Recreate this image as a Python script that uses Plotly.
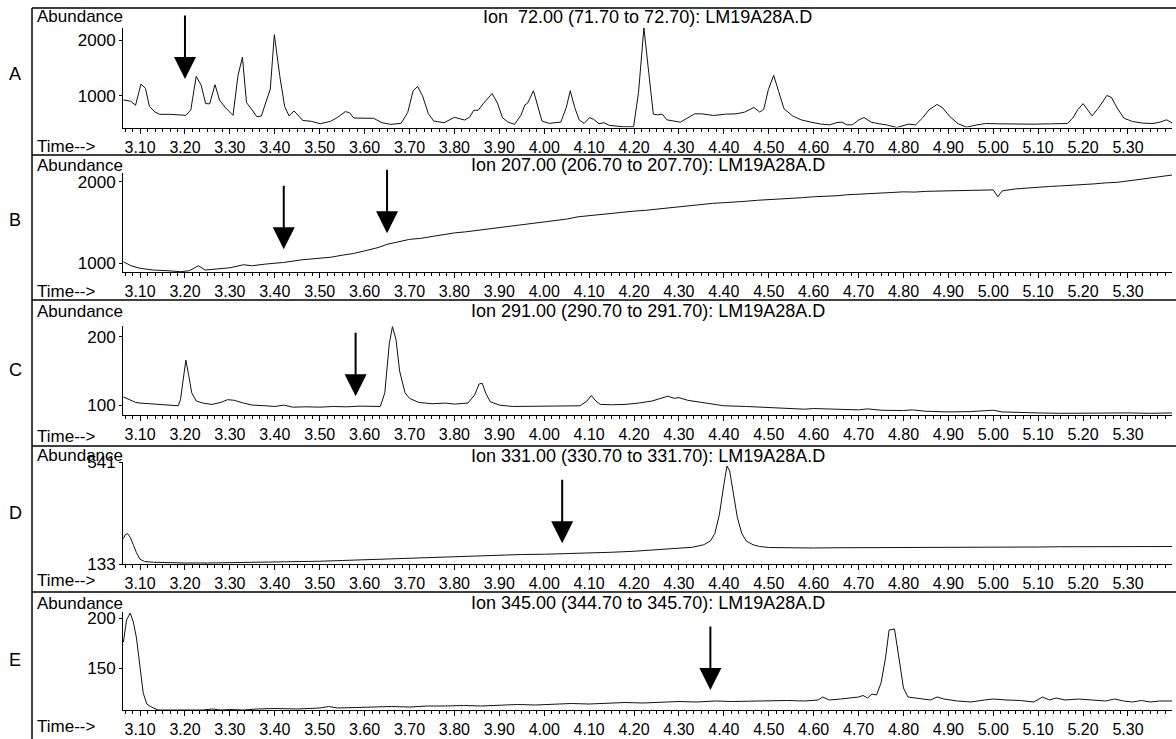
import plotly.graph_objects as go

# ---------------- data ----------------
TIME_A = [3.063, 3.079, 3.090, 3.102, 3.112, 3.121, 3.133, 3.144, 3.167, 3.190, 3.202, 3.213, 3.225, 3.236,
          3.246, 3.255, 3.267, 3.277, 3.290, 3.307, 3.318, 3.328, 3.337, 3.351, 3.360, 3.370, 3.390, 3.399,
          3.411, 3.422, 3.432, 3.443, 3.462, 3.482, 3.501, 3.524, 3.539, 3.557, 3.566, 3.576, 3.620, 3.639,
          3.658, 3.681, 3.696, 3.708, 3.718, 3.729, 3.742, 3.754, 3.777, 3.800, 3.823, 3.834, 3.843, 3.853,
          3.865, 3.884, 3.896, 3.907, 3.919, 3.934, 3.948, 3.957, 3.963, 3.976, 3.986, 3.995, 4.011, 4.037,
          4.049, 4.058, 4.068, 4.078, 4.089, 4.101, 4.110, 4.122, 4.133, 4.145, 4.176, 4.199, 4.210, 4.222,
          4.233, 4.243, 4.252, 4.263, 4.273, 4.290, 4.303, 4.316, 4.335, 4.351, 4.377, 4.404, 4.427, 4.446,
          4.467, 4.480, 4.489, 4.499, 4.511, 4.522, 4.534, 4.553, 4.572, 4.594, 4.617, 4.636, 4.652, 4.663,
          4.674, 4.686, 4.701, 4.712, 4.728, 4.747, 4.762, 4.785, 4.800, 4.811, 4.827, 4.842, 4.857, 4.875,
          4.888, 4.903, 4.922, 4.941, 4.964, 4.983, 5.013, 5.051, 5.089, 5.127, 5.165, 5.177, 5.188, 5.200,
          5.211, 5.220, 5.234, 5.253, 5.263, 5.276, 5.291, 5.310, 5.333, 5.356, 5.371, 5.386, 5.398]
ABUND_A = [927, 903, 831, 1212, 1133, 806, 710, 667, 667, 661, 649, 746, 1351, 1194,
           861, 855, 1200, 921, 788, 649, 1363, 1696, 879, 728, 625, 637, 1121, 2101,
           1363, 806, 637, 728, 558, 540, 498, 540, 607, 716, 698, 601, 595, 516,
           486, 504, 698, 1091, 1169, 1000, 679, 546, 516, 613, 564, 619, 740, 740,
           867, 1042, 867, 607, 528, 486, 649, 837, 867, 1091, 819, 546, 504, 528,
           788, 1091, 788, 564, 504, 607, 577, 498, 516, 468, 443, 443, 1061, 2225,
           1400, 670, 658, 670, 568, 550, 526, 586, 676, 676, 646, 670, 676, 706,
           791, 706, 761, 1109, 1368, 1079, 767, 640, 568, 526, 490, 478, 520, 526,
           478, 478, 568, 610, 526, 496, 478, 430, 460, 490, 478, 598, 749, 845,
           779, 628, 496, 436, 478, 502, 496, 490, 490, 496, 502, 598, 749, 860,
           731, 640, 779, 1007, 971, 779, 598, 538, 508, 502, 526, 568, 514]

TIME_B = [3.063, 3.080, 3.100, 3.130, 3.160, 3.190, 3.210, 3.230, 3.245, 3.270, 3.300, 3.330, 3.350, 3.380,
          3.420, 3.460, 3.500, 3.525, 3.550, 3.575, 3.600, 3.630, 3.650, 3.670, 3.700, 3.725, 3.750, 3.775,
          3.800, 3.825, 3.850, 3.875, 3.900, 3.925, 3.950, 3.975, 4.000, 4.025, 4.050, 4.075, 4.100, 4.125,
          4.150, 4.175, 4.200, 4.225, 4.250, 4.275, 4.300, 4.325, 4.350, 4.375, 4.400, 4.425, 4.450, 4.475,
          4.500, 4.525, 4.550, 4.575, 4.600, 4.625, 4.650, 4.675, 4.700, 4.725, 4.750, 4.775, 4.800, 4.825,
          4.850, 4.875, 4.900, 4.925, 4.950, 4.975, 5.000, 5.010, 5.020, 5.050, 5.075, 5.100, 5.125, 5.150,
          5.175, 5.200, 5.225, 5.250, 5.275, 5.300, 5.325, 5.350, 5.375, 5.398]
ABUND_B = [1016, 967, 935, 914, 906, 894, 906, 967, 914, 927, 942, 979, 967, 988,
           1008, 1040, 1061, 1072, 1097, 1118, 1150, 1191, 1231, 1256, 1292, 1305, 1329, 1345,
           1372, 1385, 1402, 1425, 1439, 1462, 1475, 1490, 1512, 1530, 1542, 1570, 1585, 1596,
           1616, 1632, 1640, 1650, 1664, 1685, 1695, 1705, 1719, 1736, 1744, 1750, 1762, 1774,
           1780, 1792, 1799, 1806, 1817, 1822, 1829, 1842, 1847, 1855, 1866, 1870, 1878, 1875,
           1884, 1888, 1890, 1892, 1896, 1899, 1902, 1817, 1890, 1914, 1925, 1939, 1944, 1951,
           1957, 1963, 1976, 1988, 1995, 2012, 2030, 2049, 2066, 2085]

TIME_C = [3.063, 3.075, 3.090, 3.100, 3.120, 3.150, 3.175, 3.185, 3.190, 3.197, 3.202, 3.208, 3.215, 3.225,
          3.240, 3.260, 3.280, 3.295, 3.310, 3.330, 3.350, 3.380, 3.400, 3.420, 3.440, 3.470, 3.500, 3.530,
          3.560, 3.590, 3.620, 3.635, 3.645, 3.655, 3.662, 3.670, 3.678, 3.690, 3.700, 3.720, 3.750, 3.780,
          3.800, 3.830, 3.845, 3.855, 3.862, 3.870, 3.880, 3.900, 3.930, 3.960, 4.000, 4.040, 4.080, 4.095,
          4.105, 4.115, 4.125, 4.150, 4.180, 4.210, 4.240, 4.260, 4.275, 4.290, 4.300, 4.320, 4.350, 4.380,
          4.400, 4.450, 4.500, 4.550, 4.580, 4.600, 4.650, 4.700, 4.720, 4.750, 4.800, 4.820, 4.850, 4.900,
          4.950, 5.000, 5.020, 5.060, 5.100, 5.150, 5.200, 5.250, 5.300, 5.350, 5.398]
ABUND_C = [112, 108, 104, 103, 102, 101.5, 100, 99, 108, 140, 166, 145, 118, 106,
           103, 101, 104, 108, 107, 103, 100, 99, 98, 100, 97, 97.5, 97, 98,
           97.5, 98.5, 97.5, 98, 118, 190, 215, 196, 150, 118, 110, 104, 102, 103,
           101.5, 103, 115, 131, 132, 117, 105, 100, 98, 98, 98.5, 98, 99, 106,
           114, 106, 101, 100.5, 101, 103, 106, 110, 113, 110, 111, 107, 104, 101,
           99, 98, 96.5, 96, 94, 95, 93.5, 93, 94.5, 92.5, 92, 93, 91, 90,
           90.5, 92.5, 90, 89, 88.5, 88, 88.5, 88, 88.5, 88, 88.5]

TIME_D = [3.063, 3.067, 3.072, 3.078, 3.085, 3.092, 3.100, 3.110, 3.130, 3.160, 3.200, 3.250, 3.300, 3.350,
          3.400, 3.450, 3.500, 3.550, 3.600, 3.650, 3.700, 3.750, 3.800, 3.850, 3.900, 3.950, 4.000, 4.050,
          4.100, 4.150, 4.200, 4.250, 4.300, 4.330, 4.355, 4.370, 4.380, 4.390, 4.400, 4.407, 4.413, 4.420,
          4.430, 4.440, 4.450, 4.465, 4.480, 4.500, 4.550, 4.600, 4.650, 4.700, 4.750, 4.800, 4.850, 4.900,
          4.950, 5.000, 5.050, 5.100, 5.150, 5.200, 5.250, 5.300, 5.350, 5.398]
ABUND_D = [235, 250, 255, 240, 210, 178, 152, 143, 140, 138, 137, 137, 138, 139,
           140, 142, 144, 147, 150, 153, 157, 160, 163, 166, 169, 171, 172, 174,
           176, 180, 184, 189, 195, 200, 210, 225, 255, 330, 450, 525, 505, 430,
           320, 255, 225, 210, 203, 199, 197, 197, 198, 198, 199, 199, 200, 200,
           201, 200, 201, 201, 202, 202, 202, 203, 203, 203]

TIME_E = [3.063, 3.070, 3.078, 3.085, 3.092, 3.100, 3.107, 3.115, 3.125, 3.140, 3.160, 3.180, 3.200, 3.220,
          3.240, 3.260, 3.280, 3.300, 3.330, 3.360, 3.400, 3.450, 3.500, 3.520, 3.540, 3.580, 3.620, 3.660,
          3.700, 3.740, 3.780, 3.820, 3.860, 3.900, 3.940, 3.980, 4.020, 4.060, 4.100, 4.140, 4.180, 4.220,
          4.260, 4.300, 4.340, 4.380, 4.420, 4.460, 4.500, 4.540, 4.580, 4.610, 4.620, 4.635, 4.660, 4.690,
          4.700, 4.710, 4.720, 4.730, 4.740, 4.750, 4.760, 4.768, 4.780, 4.790, 4.800, 4.810, 4.830, 4.860,
          4.875, 4.890, 4.920, 4.950, 4.980, 5.000, 5.030, 5.060, 5.090, 5.110, 5.125, 5.140, 5.160, 5.190,
          5.220, 5.250, 5.270, 5.290, 5.310, 5.330, 5.350, 5.370, 5.398]
ABUND_E = [176, 198, 205, 196, 180, 148, 125, 114, 111, 108, 108, 108.5, 108, 108.5,
           108, 109, 108, 108.5, 108, 109, 109.5, 109, 110, 111.5, 110, 110.5, 111, 111.5,
           111, 112, 112, 112.5, 112, 113, 113.5, 113, 114, 114.5, 114, 115, 115.5, 115,
           116, 116.5, 116, 117, 116.5, 117, 117, 117.5, 117, 118, 121, 118, 119, 120,
           121, 122.5, 120, 124, 123, 135, 160, 188, 189, 160, 130, 121, 120, 118,
           121, 119, 117, 116, 118, 119, 118, 117.5, 116, 121, 118, 120, 118, 119,
           118, 117, 119, 117, 116, 117.5, 116, 117, 117]

PANEL_LETTERS = ["A", "B", "C", "D", "E"]
ION_TITLES = ["Ion\u00a0 72.00 (71.70 to 72.70): LM19A28A.D",
              "Ion 207.00 (206.70 to 207.70): LM19A28A.D",
              "Ion 291.00 (290.70 to 291.70): LM19A28A.D",
              "Ion 331.00 (330.70 to 331.70): LM19A28A.D",
              "Ion 345.00 (344.70 to 345.70): LM19A28A.D"]
Y_TICKS = [[1000, 2000], [1000, 2000], [100, 200], [133, 541], [150, 200]]
Y_RANGES = [[430, 2230], [890, 2110], [85.5, 216], [133, 541], [108, 206]]
ARROW_TIMES = [[3.20], [3.42, 3.65], [3.58], [4.04], [4.37]]
ARROW_TIPS = [[1301], [1170, 1366], [113], [216], [128]]
X_RANGE = [3.062, 5.398]

TIMES = [TIME_A, TIME_B, TIME_C, TIME_D, TIME_E]
ABUNDS = [ABUND_A, ABUND_B, ABUND_C, ABUND_D, ABUND_E]

# ---------------- layout geometry (pixels) ----------------
W, H = 1176, 739
PLOT_LEFT, PLOT_RIGHT = 123, 1172
PLOT_TOP = [27.5, 173, 326, 462, 612]
PLOT_BOTTOM = [127.5, 272, 415, 564, 710]
BORDERS = [8, 155, 300, 446, 592]
ABUND_Y = [17, 165, 311, 455, 603]
TIME_Y = [146, 291, 436, 580, 726]
LETTER_Y = [74, 220, 370, 513, 660]
TITLE_Y = [17, 165, 311, 456, 603]
TITLE_X = 648

FONT = "Liberation Sans, Arial, Helvetica, sans-serif"
BLACK = "#000000"


def px(x):
    return x / W


def py(y):
    return 1 - y / H


fig = go.Figure()
layout = dict(
    template="none",
    width=W, height=H, autosize=False,
    margin=dict(l=0, r=0, t=0, b=0, pad=0, autoexpand=False),
    paper_bgcolor="white", plot_bgcolor="white",
    showlegend=False,
    font=dict(family=FONT, color=BLACK, size=16),
)
annotations = []
shapes = []

for i in range(5):
    n = "" if i == 0 else str(i + 1)
    fig.add_trace(go.Scatter(
        x=TIMES[i], y=ABUNDS[i], mode="lines",
        line=dict(color="#111111", width=1),
        xaxis="x" + n, yaxis="y" + n, hoverinfo="skip",
    ))
    layout["xaxis" + n] = dict(
        domain=[px(PLOT_LEFT), px(PLOT_RIGHT)], anchor="y" + n,
        range=X_RANGE, tick0=3.1, dtick=0.1, tickformat=".2f",
        ticks="outside", ticklen=5, tickwidth=1, tickcolor=BLACK,
        showline=True, linecolor=BLACK, linewidth=1,
        showgrid=False, zeroline=False, automargin=False,
        tickfont=dict(family=FONT, size=16, color=BLACK),
        minor=dict(ticks="outside", ticklen=3, tickwidth=1, tickcolor=BLACK,
                   dtick=0.1 / 6, tick0=3.1, showgrid=False),
        fixedrange=True,
    )
    layout["yaxis" + n] = dict(
        domain=[py(PLOT_BOTTOM[i]), py(PLOT_TOP[i])], anchor="x" + n,
        range=Y_RANGES[i], tickvals=Y_TICKS[i],
        ticktext=[str(v) for v in Y_TICKS[i]],
        ticks="outside", ticklen=3, tickwidth=1, tickcolor=BLACK,
        showline=True, linecolor=BLACK, linewidth=1,
        showgrid=False, zeroline=False, automargin=False,
        tickfont=dict(family=FONT, size=17, color=BLACK),
        fixedrange=True,
    )
    # texts
    annotations.append(dict(text="Abundance", x=px(35), y=py(ABUND_Y[i]), xref="paper", yref="paper",
                            xanchor="left", yanchor="middle", showarrow=False,
                            font=dict(family=FONT, size=17, color=BLACK)))
    annotations.append(dict(text="Time-->", x=px(35), y=py(TIME_Y[i]), xref="paper", yref="paper",
                            xanchor="left", yanchor="middle", showarrow=False,
                            font=dict(family=FONT, size=17, color=BLACK)))
    annotations.append(dict(text=PANEL_LETTERS[i], x=px(15), y=py(LETTER_Y[i]), xref="paper", yref="paper",
                            xanchor="center", yanchor="middle", showarrow=False,
                            font=dict(family=FONT, size=18, color=BLACK)))
    annotations.append(dict(text=ION_TITLES[i], x=px(TITLE_X), y=py(TITLE_Y[i]),
                            xref="paper", yref="paper",
                            xanchor="center", yanchor="middle", showarrow=False,
                            font=dict(family=FONT, size=18, color=BLACK)))
    for t, v in zip(ARROW_TIMES[i], ARROW_TIPS[i]):
        annotations.append(dict(text="", x=t, y=v, xref="x" + n, yref="y" + n,
                                ax=0, ay=-65, showarrow=True, arrowhead=2, arrowsize=2.2,
                                arrowwidth=2, arrowcolor=BLACK, standoff=0))
    shapes.append(dict(type="line", xref="paper", yref="paper",
                       x0=px(32), x1=1, y0=py(BORDERS[i]), y1=py(BORDERS[i]),
                       line=dict(color=BLACK, width=1.5)))

shapes.append(dict(type="line", xref="paper", yref="paper",
                   x0=px(32), x1=px(32), y0=py(BORDERS[0]), y1=0,
                   line=dict(color=BLACK, width=1.5)))

layout["annotations"] = annotations
layout["shapes"] = shapes
fig.update_layout(**layout)
fig.write_html(
    "out.html",
    config={"displayModeBar": False, "staticPlot": True},
    post_script="document.body.style.margin='0';document.body.style.padding='0';"
                "document.body.style.overflow='hidden';",
)
